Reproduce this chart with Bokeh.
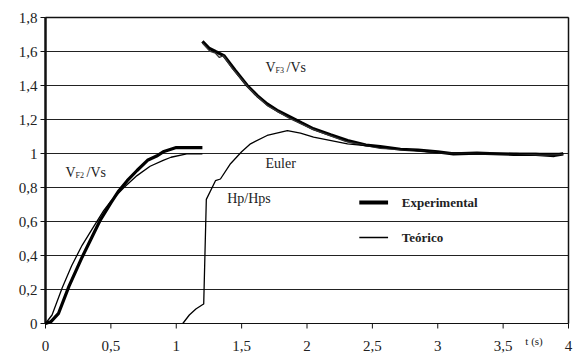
from bokeh.plotting import figure
from bokeh.models import Label, Range1d
from bokeh.core.properties import value
from bokeh.embed import file_html
from bokeh.resources import INLINE

# Velocity / head ratios versus time
vf2_exp_t = [0, 0.04, 0.1, 0.18, 0.28, 0.35, 0.42, 0.5, 0.56, 0.625, 0.7, 0.78, 0.85, 0.9, 1.0, 1.2]
vf2_exp_v = [0, 0.01, 0.06, 0.22, 0.39, 0.5, 0.61, 0.71, 0.78, 0.84, 0.9, 0.96, 0.985, 1.01, 1.035, 1.035]

vf2_teo_t = [0, 0.05, 0.128, 0.2, 0.28, 0.36, 0.446, 0.5, 0.6, 0.7, 0.8, 0.9, 0.96, 1.08, 1.2]
vf2_teo_v = [0, 0.05, 0.21, 0.34, 0.46, 0.56, 0.665, 0.72, 0.8, 0.87, 0.925, 0.96, 0.978, 0.998, 0.998]

vf3_exp_t = [1.2, 1.25, 1.3, 1.364, 1.45, 1.543, 1.62, 1.695, 1.78, 1.874, 1.96, 2.05, 2.18, 2.31,
             2.45, 2.56, 2.715, 2.85, 3.0, 3.12, 3.3, 3.58, 3.75, 3.89, 3.96]
vf3_exp_v = [1.66, 1.62, 1.6, 1.576, 1.49, 1.4, 1.34, 1.292, 1.25, 1.214, 1.18, 1.145, 1.11, 1.076,
             1.05, 1.04, 1.025, 1.02, 1.01, 0.998, 1.002, 0.995, 0.995, 0.988, 0.998]

vf3_teo_t = [1.2, 1.26, 1.3, 1.33, 1.36, 1.43, 1.55, 1.6, 1.7, 1.87, 2.05, 2.3, 2.56, 2.8, 3.0,
             3.3, 3.6, 3.8, 3.96]
vf3_teo_v = [1.65, 1.6, 1.59, 1.565, 1.575, 1.5, 1.39, 1.35, 1.28, 1.205, 1.14, 1.07, 1.03, 1.02,
             1.005, 1.0, 1.0, 0.99, 0.995]

hp_teo_t = [1.05, 1.1, 1.15, 1.2, 1.21, 1.23, 1.3, 1.338, 1.415, 1.5, 1.568, 1.695, 1.85, 1.95,
            2.05, 2.31, 2.56, 2.8, 3.0, 3.5, 3.96]
hp_teo_v = [0, 0.05, 0.085, 0.11, 0.115, 0.73, 0.84, 0.85, 0.94, 1.01, 1.057, 1.106, 1.135, 1.12,
            1.096, 1.057, 1.037, 1.02, 1.005, 1.0, 1.0]

x_ticks = [0, 0.5, 1, 1.5, 2, 2.5, 3, 3.5, 4]
x_tick_labels = ["0", "0,5", "1", "1,5", "2", "2,5", "3", "3,5", "4"]
y_ticks = [0, 0.2, 0.4, 0.6, 0.8, 1, 1.2, 1.4, 1.6, 1.8]
y_tick_labels = ["0", "0,2", "0,4", "0,6", "0,8", "1", "1,2", "1,4", "1,6", "1,8"]

X_END = 4.0
Y_END = 1.8

SERIF = "Liberation Serif"
INK = "#111111"
TEXT = "#222222"

# The frame fills the whole canvas; the axes are drawn inside it.
# Scale: 130.75 px per second, 170 px per unit of ratio, origin at (45, 323) px.
W, H = 574, 362
OX, OY = 45, 323
PX_X, PX_Y = 130.75, 170.0

p = figure(width=W, height=H, frame_width=W, frame_height=H,
           output_backend="svg", toolbar_location=None,
           x_range=Range1d(-OX / PX_X, (W - OX) / PX_X),
           y_range=Range1d(-(H - OY) / PX_Y, OY / PX_Y),
           min_border=0)
p.background_fill_color = "white"
p.border_fill_color = "white"
p.outline_line_color = None
p.axis.visible = False
p.grid.visible = False


def px_x(n):
    return n / PX_X


def px_y(n):
    return n / PX_Y


n_y = len(y_ticks)
n_x = len(x_ticks)

# horizontal grid
p.segment(x0=[0] * n_y, y0=y_ticks, x1=[X_END] * n_y, y1=y_ticks,
          line_color="#222222", line_width=1)
p.line([0, X_END], [Y_END, Y_END], line_color=INK, line_width=1.5)

# value axis
p.line([0, 0], [0, Y_END], line_color=INK, line_width=2.5)
p.segment(x0=[0] * n_y, y0=y_ticks, x1=[-px_x(5)] * n_y, y1=y_ticks, line_color=INK, line_width=1)
p.text(x=[-px_x(8)] * n_y, y=y_ticks, text=y_tick_labels,
       text_font=value(SERIF), text_font_size="15px", text_color=TEXT,
       text_align="right", text_baseline="middle")

# time axis and right border
p.line([0, X_END], [0, 0], line_color=INK, line_width=1)
p.line([X_END, X_END], [0, Y_END], line_color=INK, line_width=1.5)
p.segment(x0=x_ticks, y0=[0] * n_x, x1=x_ticks, y1=[-px_y(5)] * n_x, line_color=INK, line_width=1)
p.text(x=x_ticks, y=[-px_y(22)] * n_x, text=x_tick_labels,
       text_font=value(SERIF), text_font_size="15px", text_color=TEXT,
       text_align="center", text_baseline="middle")
p.text(x=[3.67], y=[-px_y(17)], text=["t (s)"],
       text_font=value(SERIF), text_font_size="11px", text_color=TEXT,
       text_align="left", text_baseline="middle")

THICK = 3.2
THIN = 1.3

p.line(vf2_exp_t, vf2_exp_v, line_color="black", line_width=THICK)
p.line(vf2_teo_t, vf2_teo_v, line_color="black", line_width=THIN)
p.line(vf3_exp_t, vf3_exp_v, line_color="black", line_width=THICK)
p.line(vf3_teo_t, vf3_teo_v, line_color="#333333", line_width=THIN)
p.line(hp_teo_t, hp_teo_v, line_color="black", line_width=THIN)

# legend keys
p.line([2.40, 2.62], [0.712, 0.712], line_color="black", line_width=4)
p.line([2.40, 2.62], [0.506, 0.506], line_color="black", line_width=THIN)


def label(x, y, text, size="13px", bold=False, dx=0, dy=0):
    p.add_layout(Label(x=x, y=y, text=text, x_offset=dx, y_offset=dy,
                       text_font=SERIF, text_font_size=size,
                       text_font_style="bold" if bold else "normal",
                       text_color=TEXT, text_baseline="middle", text_align="left"))


def ratio_label(x, y, sub):
    label(x, y, "V", size="14px")
    label(x, y, sub, size="8px", dx=10, dy=-3)
    label(x, y, "/Vs", size="14px", dx=21)


ratio_label(0.153, 0.888, "F2")
ratio_label(1.683, 1.506, "F3")
label(1.683, 0.94, "Euler", size="14px")
label(1.39, 0.735, "Hp/Hps", size="14px")
label(2.725, 0.712, "Experimental", size="13px", bold=True)
label(2.725, 0.506, "Teórico", size="13px", bold=True)

open("out.html", "w").write(file_html(p, INLINE))
